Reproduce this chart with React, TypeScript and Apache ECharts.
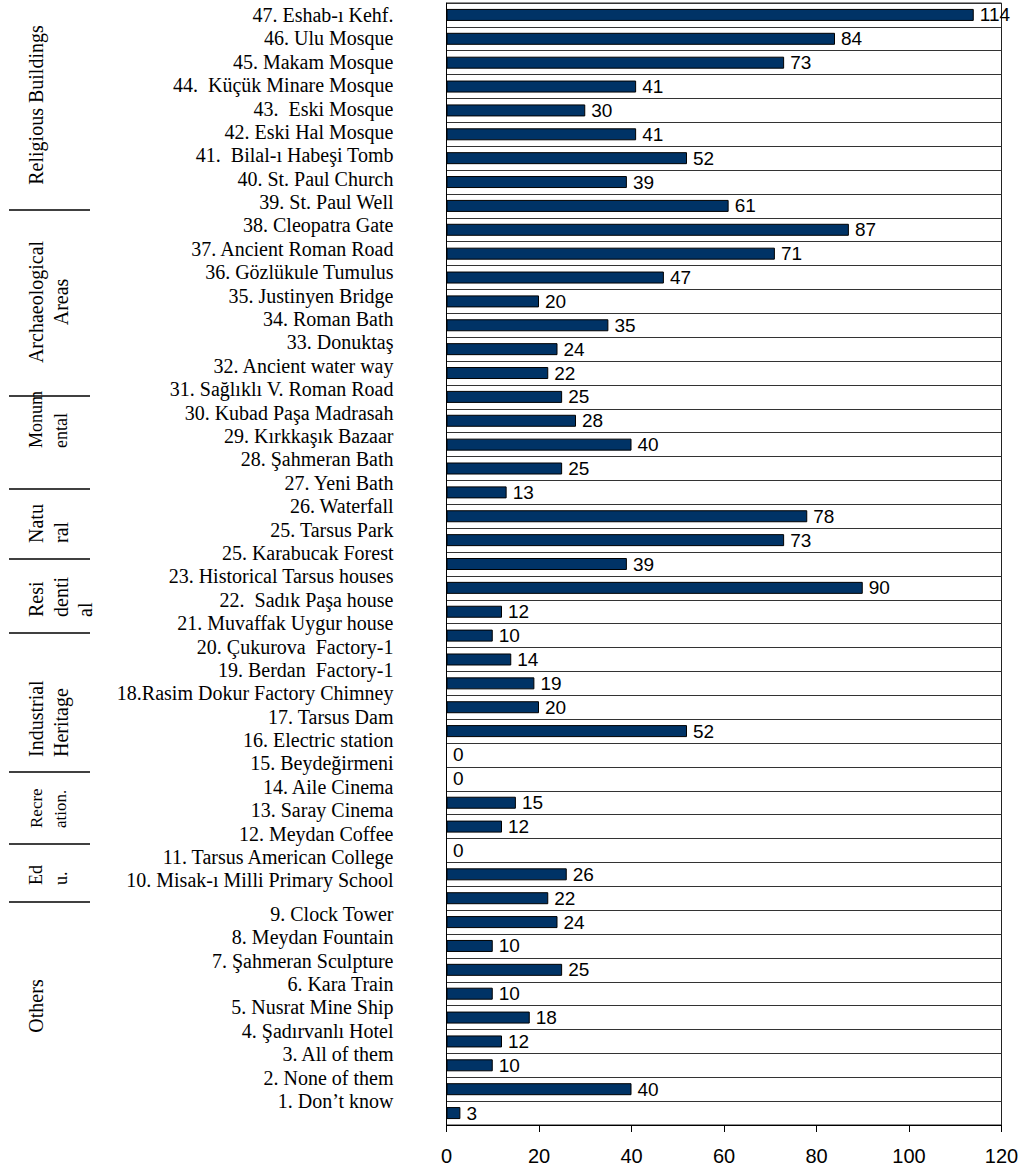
import React, { useEffect, useRef } from "react";
import * as echarts from "echarts";

// Sites, from the top row to the bottom row
const siteNames: string[] = [
  "47. Eshab-ı Kehf.",
  "46. Ulu Mosque",
  "45. Makam Mosque",
  "44.  Küçük Minare Mosque",
  "43.  Eski Mosque",
  "42. Eski Hal Mosque",
  "41.  Bilal-ı Habeşi Tomb",
  "40. St. Paul Church",
  "39. St. Paul Well",
  "38. Cleopatra Gate",
  "37. Ancient Roman Road",
  "36. Gözlükule Tumulus",
  "35. Justinyen Bridge",
  "34. Roman Bath",
  "33. Donuktaş",
  "32. Ancient water way",
  "31. Sağlıklı V. Roman Road",
  "30. Kubad Paşa Madrasah",
  "29. Kırkkaşık Bazaar",
  "28. Şahmeran Bath",
  "27. Yeni Bath",
  "26. Waterfall",
  "25. Tarsus Park",
  "25. Karabucak Forest",
  "23. Historical Tarsus houses",
  "22.  Sadık Paşa house",
  "21. Muvaffak Uygur house",
  "20. Çukurova  Factory-1",
  "19. Berdan  Factory-1",
  "18.Rasim Dokur Factory Chimney",
  "17. Tarsus Dam",
  "16. Electric station",
  "15. Beydeğirmeni",
  "14. Aile Cinema",
  "13. Saray Cinema",
  "12. Meydan Coffee",
  "11. Tarsus American College",
  "10. Misak-ı Milli Primary School",
  "9. Clock Tower",
  "8. Meydan Fountain",
  "7. Şahmeran Sculpture",
  "6. Kara Train",
  "5. Nusrat Mine Ship",
  "4. Şadırvanlı Hotel",
  "3. All of them",
  "2. None of them",
  "1. Don\u2019t know",
];

// Number of mentions for each row
const mentions: number[] = [
  114, 84, 73, 41, 30, 41, 52, 39, 61, 87, 71, 47, 20, 35, 24, 22, 25, 28, 40, 25,
  13, 78, 73, 39, 90, 12, 10, 14, 19, 20, 52, 0, 0, 15, 12, 0, 26, 22, 24, 10, 25,
  10, 18, 12, 10, 40, 3,
];

// Value axis ticks
const xMin = 0;
const xMax = 120;
const xStep = 20;

// Category groups shown on the far left
const groupNames: string[] = [
  "Religious Buildings",
  "Archaeological\nAreas",
  "Monum\nental",
  "Natu\nral",
  "Resi\ndenti\nal",
  "Industrial\nHeritage",
  "Recre\nation.",
  "Ed\nu.",
  "Others",
];

// Placement of the group captions (rotated, reading upward)
const groupLayout = [
  { y: 105, align: "center", size: 20 },
  { y: 302, align: "center", size: 20 },
  { y: 448, align: "left", size: 18 },
  { y: 543, align: "left", size: 20 },
  { y: 617, align: "left", size: 20 },
  { y: 757, align: "left", size: 20 },
  { y: 828, align: "left", size: 17 },
  { y: 885, align: "left", size: 18 },
  { y: 1006, align: "center", size: 20 },
];
const groupDividers = [210, 396, 489, 559, 633, 772, 844, 902];

// The "Others" rows start here; their names sit a little lower
const FIRST_OTHERS_ROW = 38;

export default function App() {
  const ref = useRef<HTMLDivElement>(null);

  useEffect(() => {
    if (!ref.current) return;
    const chart = echarts.init(ref.current, undefined, { renderer: "svg" });

    const graphic: any[] = [];
    groupDividers.forEach((y) => {
      graphic.push({
        type: "line",
        shape: { x1: 9, y1: y, x2: 90, y2: y },
        style: { stroke: "#000", lineWidth: 1.6 },
        silent: true,
      });
    });
    groupNames.forEach((name, i) => {
      const g = groupLayout[i];
      graphic.push({
        type: "text",
        x: 24,
        y: g.y,
        rotation: Math.PI / 2,
        silent: true,
        style: {
          text: name,
          fontFamily: "Liberation Serif",
          fontSize: g.size,
          lineHeight: 24.5,
          fill: "#000",
          align: g.align,
          textAlign: g.align,
          verticalAlign: "top",
          textVerticalAlign: "top",
        },
      });
    });

    const serif = { color: "#000", fontSize: 20, fontFamily: "Liberation Serif" };

    chart.setOption({
      animation: false,
      grid: [
        {
          left: 446.5,
          top: 3,
          width: 555,
          height: 1122,
          show: true,
          borderColor: "#222",
          borderWidth: 1,
          backgroundColor: "transparent",
        },
        { left: 446.5, top: 3.3, width: 555, height: 1099.3 },
      ],
      xAxis: [
        {
          gridIndex: 0,
          type: "value",
          min: xMin,
          max: xMax,
          interval: xStep,
          axisLine: { show: true, lineStyle: { color: "#000", width: 1 } },
          axisTick: { show: true, length: 7, lineStyle: { color: "#000" } },
          splitLine: { show: false },
          axisLabel: {
            color: "#000",
            fontSize: 20,
            fontFamily: "Liberation Sans",
            margin: 21,
          },
        },
        { gridIndex: 1, type: "value", show: false, min: xMin, max: xMax },
      ],
      yAxis: [
        {
          gridIndex: 0,
          type: "category",
          inverse: true,
          data: siteNames,
          axisLine: { show: true, lineStyle: { color: "#000", width: 1 } },
          axisTick: { show: false, interval: 0 },
          axisLabel: { show: false, interval: 0 },
          splitLine: { show: true, interval: 0, lineStyle: { color: "#333", width: 1 } },
        },
        {
          gridIndex: 1,
          type: "category",
          inverse: true,
          data: siteNames,
          axisLine: { show: false },
          axisTick: { show: false },
          splitLine: { show: false },
          axisLabel: {
            interval: 0,
            ...serif,
            margin: 53,
            formatter: (value: string, index: number) =>
              index >= FIRST_OTHERS_ROW ? `{low|${value}}` : value,
            rich: {
              low: { ...serif, padding: [20, 0, 0, 0] },
            },
          },
        },
      ],
      series: [
        {
          type: "bar",
          xAxisIndex: 0,
          yAxisIndex: 0,
          data: mentions,
          barWidth: 12,
          itemStyle: { color: "#003366", borderColor: "#000", borderWidth: 1 },
          label: {
            show: true,
            position: "right",
            distance: 6,
            color: "#000",
            fontSize: 19,
            fontFamily: "Liberation Sans",
          },
        },
      ],
      graphic,
    });

    return () => chart.dispose();
  }, []);

  return (
    <div
      ref={ref}
      style={{ position: "absolute", left: 0, top: 0, width: 1023, height: 1171, background: "#fff" }}
    />
  );
}
